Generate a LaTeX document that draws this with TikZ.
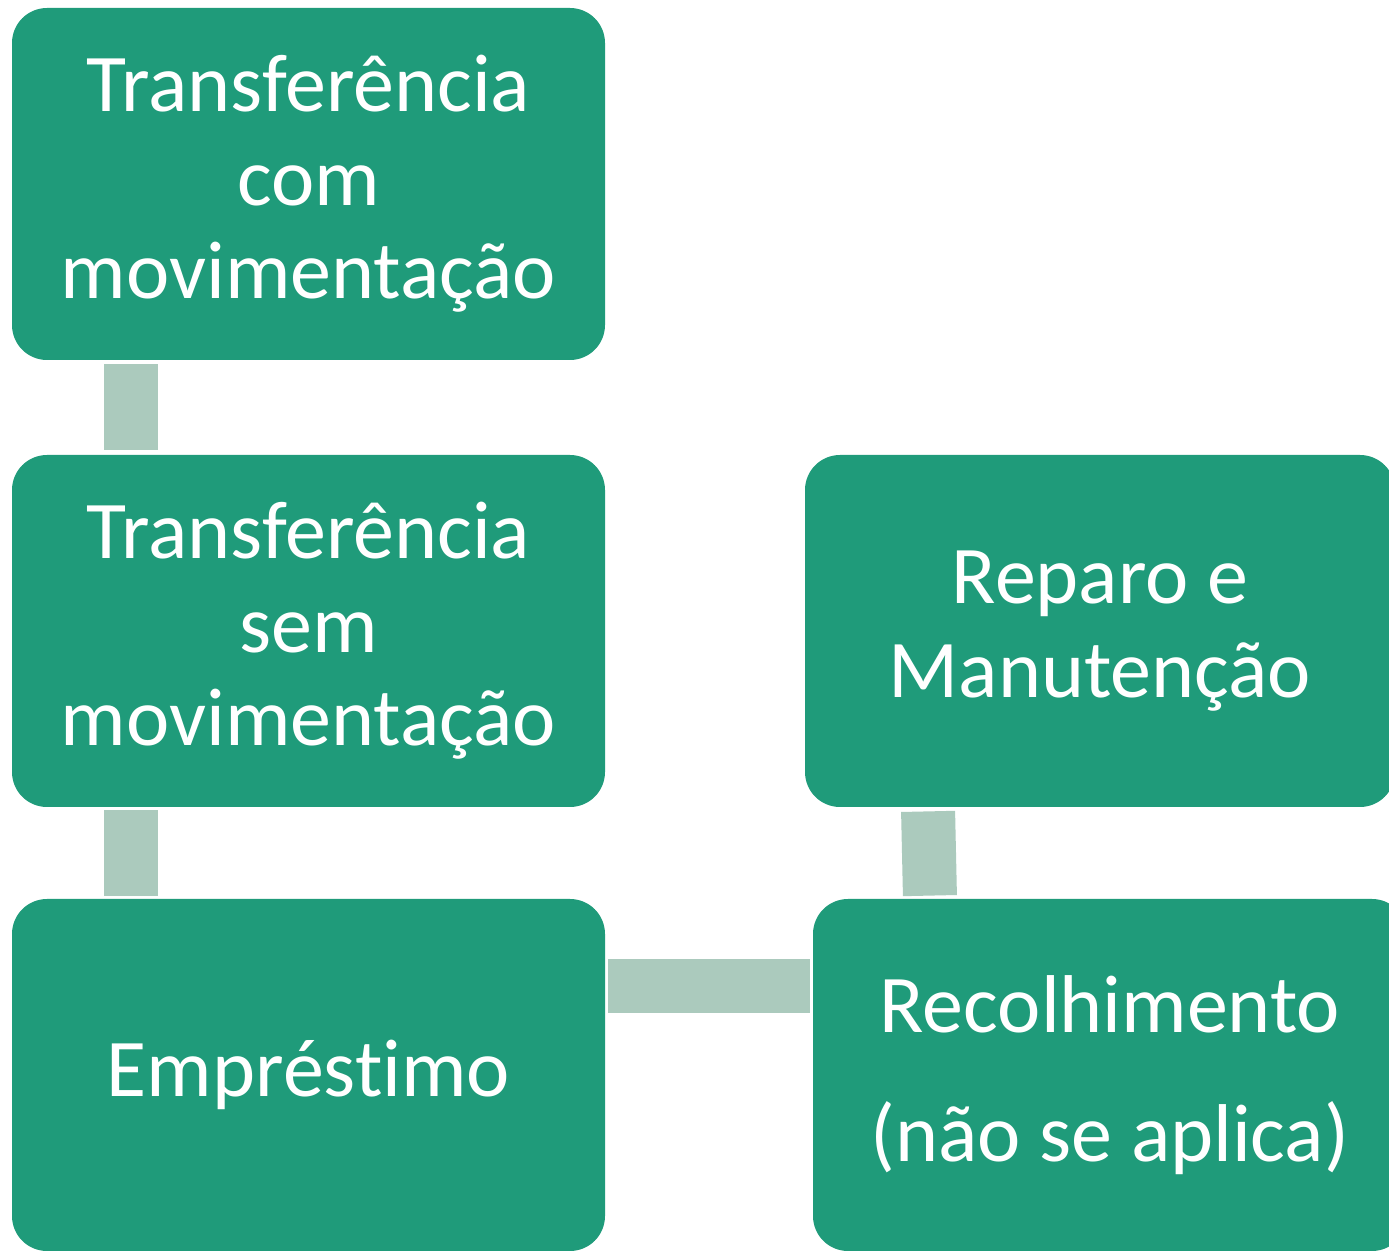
\documentclass[tikz,border=0pt]{standalone}
\usepackage{fontspec}
\setmainfont[Ligatures={NoCommon}]{Carlito}
\usetikzlibrary{positioning}
\definecolor{boxgreen}{HTML}{1F9B7A}
\definecolor{linkgreen}{HTML}{ABCABD}

\begin{document}
\begin{tikzpicture}[x=0.5pt, y=-0.5pt,
    box/.style={rectangle, rounded corners=17.5pt, fill=boxgreen, text=white, minimum width=296.5pt, minimum height=176pt, inner sep=0pt, align=center, font=\fontsize{41}{46.75}\selectfont},
    link/.style={draw=linkgreen, line width=27pt}
]
\useasboundingbox (0,0) rectangle (1389,1251);
\clip (0,0) rectangle (1389,1251);

% Left column
\node[box] (tcom) at (308.5,184) {Transferência\\com\\movimentação};
\node[box] (tsem) at (308.5,631) {Transferência\\sem\\movimentação};
\node[box] (emprestimo) at (308.5,1075) {Empréstimo};

% Right column
\node[box, minimum width=295pt] (reparo) at (1100,631) {Reparo e\\Manutenção};
\node[box, minimum width=297pt] (recolhimento) at (1110,1075) {Recolhimento\\[18pt](não se aplica)};

% Links
\draw[link, shorten <=2pt, shorten >=2.5pt] ([xshift=-88.75pt]tcom.south) -- ([xshift=-88.75pt]tsem.north);
\draw[link, shorten <=1.5pt, shorten >=1.5pt] ([xshift=-88.75pt]tsem.south) -- ([xshift=-88.75pt]emprestimo.north);
\draw[link, shorten <=1.5pt, shorten >=1.5pt] ([yshift=44.5pt]emprestimo.east) -- ([yshift=44.5pt]recolhimento.west);
\draw[link, shorten <=2pt, shorten >=1.5pt] ([xshift=-86pt]reparo.south) -- ([xshift=-90pt]recolhimento.north);

\end{tikzpicture}
\end{document}
